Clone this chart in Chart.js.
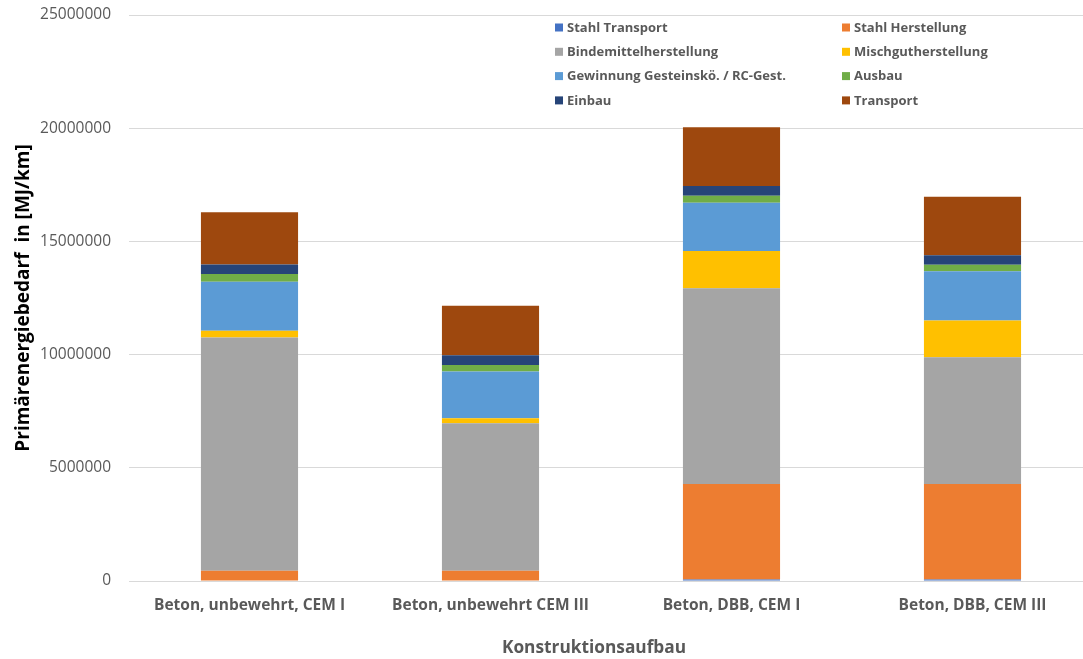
<!DOCTYPE html>
<html lang="de">
<head>
<meta charset="utf-8">
<title>Primärenergiebedarf</title>
<script src="https://cdn.jsdelivr.net/npm/chart.js@4/dist/chart.umd.min.js"></script>
<style>
  html, body { margin: 0; padding: 0; background: #ffffff; overflow: hidden; }
  #wrap { width: 1083px; height: 659px; overflow: hidden; }
  #chart { display: block; }
</style>
</head>
<body>
<div id="wrap"><canvas id="chart" width="1095" height="659"></canvas></div>
<script>
// Categories (construction variants)
const categories = [
  'Beton, unbewehrt, CEM I',
  'Beton, unbewehrt CEM III',
  'Beton, DBB, CEM I',
  'Beton, DBB, CEM III'
];

// Primary energy demand per component, MJ/km
const stahlTransport      = [0, 0, 70000, 70000];
const stahlHerstellung    = [455000, 455000, 4210000, 4210000];
const bindemittel         = [10300000, 6510000, 8650000, 5600000];
const mischgut            = [300000, 220000, 1650000, 1630000];
const gewinnung           = [2160000, 2070000, 2130000, 2170000];
const ausbau              = [340000, 290000, 310000, 290000];
const einbau              = [430000, 430000, 430000, 420000];
const transport           = [2300000, 2180000, 2590000, 2580000];

// Y axis ticks
const yTicks = [0, 5000000, 10000000, 15000000, 20000000, 25000000];

const seriesNames = [
  'Stahl Transport', 'Stahl Herstellung', 'Bindemittelherstellung', 'Mischgutherstellung',
  'Gewinnung Gesteinskö. / RC-Gest.', 'Ausbau', 'Einbau', 'Transport'
];
const seriesValues = [
  stahlTransport, stahlHerstellung, bindemittel, mischgut,
  gewinnung, ausbau, einbau, transport
];
const seriesColors = [
  '#4472C4', '#ED7D31', '#A5A5A5', '#FFC000',
  '#5B9BD5', '#70AD47', '#264478', '#9E480E'
];

const xAxisTitle = 'Konstruktionsaufbau';

const FONT = '"Open Sans", "DejaVu Sans", sans-serif';

// Two-column legend inside the plot area (top right) and the category axis title
const chartDecor = {
  id: 'chartDecor',
  afterDraw(chart) {
    const ctx = chart.ctx;
    const colX = [555, 842];
    const rowY0 = 27.5, rowStep = 24.3, box = 8;
    ctx.save();
    ctx.font = 'bold 13px ' + FONT;
    ctx.textBaseline = 'middle';
    ctx.textAlign = 'left';
    chart.data.datasets.forEach((ds, i) => {
      const col = i % 2, row = Math.floor(i / 2);
      const x = colX[col], y = rowY0 + row * rowStep;
      ctx.fillStyle = ds.backgroundColor;
      ctx.fillRect(x, y - box / 2, box, box);
      ctx.fillStyle = '#595959';
      ctx.fillText(ds.label, x + 12, y + 0.5);
    });

    ctx.font = 'bold 17.3px ' + FONT;
    ctx.textAlign = 'center';
    ctx.fillStyle = '#595959';
    ctx.fillText(xAxisTitle, 594, 648);
    ctx.restore();
  }
};

const datasets = seriesNames.map((name, i) => ({
  label: name,
  data: seriesValues[i],
  backgroundColor: seriesColors[i],
  borderWidth: 0,
  categoryPercentage: 1.0,
  barPercentage: 0.403
}));

new Chart(document.getElementById('chart'), {
  type: 'bar',
  data: { labels: categories, datasets },
  plugins: [chartDecor],
  options: {
    responsive: false,
    animation: false,
    layout: { padding: { top: 15, right: 2, left: 12, bottom: 0 } },
    plugins: {
      legend: { display: false },
      tooltip: { enabled: false }
    },
    scales: {
      x: {
        stacked: true,
        afterFit(scale) {
          scale.height = 78;
          scale.paddingLeft = 0;
          scale.paddingRight = 0;
        },
        grid: { display: false, drawTicks: false },
        border: { display: true, color: '#D9D9D9', width: 1 },
        ticks: {
          color: '#595959',
          font: { family: FONT, size: 15.5, weight: 'bold' },
          padding: 15,
          maxRotation: 0
        },
        title: { display: false }
      },
      y: {
        stacked: true,
        min: 0,
        max: 25000000,
        afterBuildTicks(axis) { axis.ticks = yTicks.map(v => ({ value: v })); },
        afterFit(scale) {
          scale.width = 117;
          scale.paddingTop = 0;
          scale.paddingBottom = 0;
        },
        grid: { color: '#D9D9D9', drawTicks: false },
        border: { display: false },
        ticks: {
          color: '#595959',
          font: { family: FONT, size: 15.5 },
          padding: 18,
          callback: v => String(v)
        },
        title: {
          display: true,
          text: 'Primärenergiebedarf  in [MJ/km]',
          color: '#000000',
          font: { family: FONT, size: 19, weight: 'bold' },
          padding: { top: 0, bottom: 8 }
        }
      }
    }
  }
});
</script>
</body>
</html>
